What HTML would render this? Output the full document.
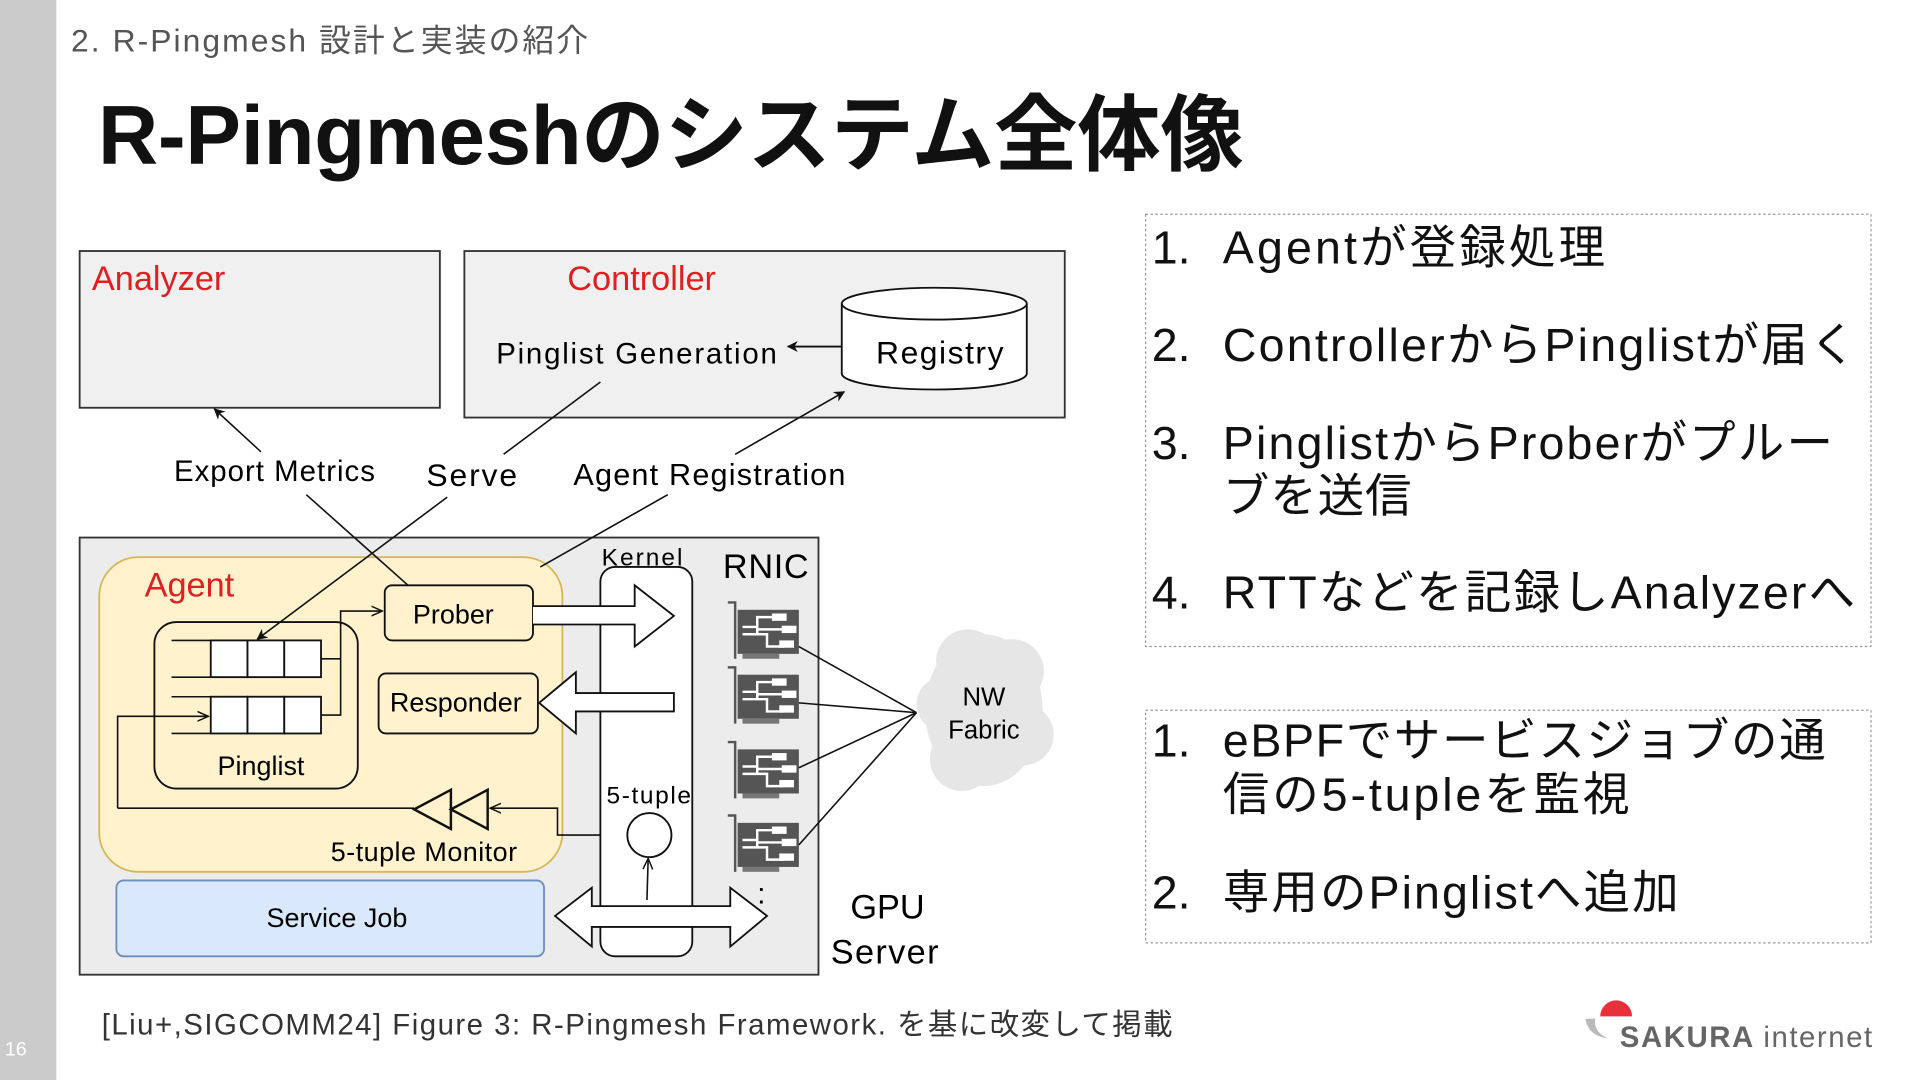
<!DOCTYPE html>
<html><head><meta charset="utf-8"><style>
html,body{margin:0;padding:0;background:#fff;}
svg{display:block;}
text{font-family:"Liberation Sans","Noto Sans CJK JP",sans-serif;}
</style></head><body>
<svg width="1920" height="1080" viewBox="0 0 1567 882" preserveAspectRatio="none" xmlns="http://www.w3.org/2000/svg">
<defs>
<marker id="ah" viewBox="0 0 10 10" refX="9" refY="5" markerWidth="9" markerHeight="9" orient="auto-start-reverse" markerUnits="userSpaceOnUse"><path d="M0,0 L10,5 L0,10 L3,5 z" fill="#111"/></marker>
<marker id="oa" viewBox="0 0 10 10" refX="9" refY="5" markerWidth="10" markerHeight="10" orient="auto" markerUnits="userSpaceOnUse"><path d="M0,1 L9,5 L0,9" fill="none" stroke="#111" stroke-width="1.2"/></marker>
<g id="nic">
<path d="M0,0 h6 v46" fill="none" stroke="#555" stroke-width="2"/>
<rect x="8" y="6" width="50" height="36" fill="#555"/>
<rect x="12" y="42" width="30" height="4" fill="#777"/>
<path d="M12,20 h12 v-8 h16 M12,26 h20 v10 h14 M24,26 v-4 h22" stroke="#fff" stroke-width="2" fill="none"/>
<rect x="36" y="9" width="12" height="6" fill="#fff"/><rect x="44" y="19" width="12" height="6" fill="#fff"/><rect x="42" y="31" width="12" height="6" fill="#fff"/>
</g>
</defs>
<rect x="0" y="0" width="46" height="882" fill="#cbcbcb"/>
<text x="4" y="862" font-size="16" fill="#fff">16</text>
<text x="58" y="42" font-size="26" fill="#555" textLength="422">2. R-Pingmesh 設計と実装の紹介</text>
<text x="80" y="134" font-size="68" font-weight="bold" fill="#111" textLength="935">R-Pingmeshのシステム全体像</text>

<!-- Analyzer -->
<rect x="65" y="205" width="294" height="128" fill="#f0f0f0" stroke="#333" stroke-width="1.5"/>
<text x="75" y="237" font-size="28" fill="#e02020">Analyzer</text>
<!-- Controller -->
<rect x="379" y="205" width="490" height="136" fill="#f0f0f0" stroke="#333" stroke-width="1.5"/>
<text x="463" y="237" font-size="28" fill="#e02020">Controller</text>
<text x="405" y="297" font-size="24" textLength="229">Pinglist Generation</text>
<path d="M687,248 v57 a75,13 0 0 0 151,0 v-57" fill="#fff" stroke="#111" stroke-width="1.5"/>
<ellipse cx="762.5" cy="248" rx="75.5" ry="13" fill="#fff" stroke="#111" stroke-width="1.5"/>
<text x="715" y="297" font-size="26" textLength="104">Registry</text>
<line x1="687" y1="283" x2="643" y2="283" stroke="#111" stroke-width="1.5" marker-end="url(#ah)"/>

<text x="142" y="393" font-size="24" textLength="164">Export Metrics</text>
<text x="348" y="397" font-size="26" textLength="74">Serve</text>
<text x="468" y="396" font-size="25" textLength="222">Agent Registration</text>

<!-- GPU server -->
<rect x="65" y="439" width="603" height="357" fill="#ececec" stroke="#333" stroke-width="1.5"/>
<rect x="81" y="455" width="378" height="257" rx="32" fill="#fff2cc" stroke="#d6b656" stroke-width="1.5"/>
<text x="118" y="487" font-size="28" fill="#e02020">Agent</text>
<rect x="314" y="478" width="121" height="45" rx="6" fill="#fff2cc" stroke="#111" stroke-width="1.5"/>
<text x="370" y="509" font-size="22" text-anchor="middle">Prober</text>
<rect x="309" y="550" width="130" height="49" rx="6" fill="#fff2cc" stroke="#111" stroke-width="1.5"/>
<text x="372" y="581" font-size="22" text-anchor="middle">Responder</text>
<rect x="126" y="508" width="166" height="136" rx="18" fill="none" stroke="#111" stroke-width="1.5"/>
<text x="213" y="633" font-size="22" text-anchor="middle">Pinglist</text>
<g stroke="#111" stroke-width="1.5" fill="#fff">
<rect x="172" y="523" width="30" height="30"/><rect x="202" y="523" width="30" height="30"/><rect x="232" y="523" width="30" height="30"/>
<rect x="172" y="569" width="30" height="30"/><rect x="202" y="569" width="30" height="30"/><rect x="232" y="569" width="30" height="30"/>
</g>
<g stroke="#111" stroke-width="1.3" fill="none">
<path d="M140,523 h32 M140,553 h32 M140,569 h32 M140,599 h32"/>
<path d="M262,538 h16 v46 h-16 M278,538 v-39 h34" marker-end="url(#oa)"/>
<path d="M96,660 v-75 h74" marker-end="url(#oa)"/>
<path d="M96,660 h242"/>
<path d="M510,682 h-55 v-22 h-55" marker-end="url(#oa)"/>
</g>
<path d="M368,645 L338,661 L368,677 z M398,645 L368,661 L398,677 z" fill="none" stroke="#111" stroke-width="2"/>
<text x="270" y="703" font-size="22" textLength="152">5-tuple Monitor</text>
<rect x="95" y="719" width="349" height="62" rx="6" fill="#dae8fc" stroke="#6c8ebf" stroke-width="1.5"/>
<text x="275" y="757" font-size="22" text-anchor="middle">Service Job</text>

<!-- connector lines drawn on top -->
<line x1="213" y1="369" x2="175" y2="334" stroke="#111" stroke-width="1.3" marker-end="url(#ah)"/>
<line x1="250" y1="404" x2="333" y2="478" stroke="#111" stroke-width="1.3"/>
<line x1="490" y1="312" x2="411" y2="371" stroke="#111" stroke-width="1.3"/>
<line x1="365" y1="406" x2="210" y2="522" stroke="#111" stroke-width="1.3" marker-end="url(#ah)"/>
<line x1="600" y1="371" x2="689" y2="320" stroke="#111" stroke-width="1.3" marker-end="url(#ah)"/>
<line x1="545" y1="404" x2="441" y2="463" stroke="#111" stroke-width="1.3"/>

<!-- kernel -->
<rect x="490" y="463" width="75" height="318" rx="12" fill="#fff" stroke="#111" stroke-width="1.5"/>
<text x="491" y="462" font-size="20" textLength="66">Kernel</text>
<text x="495" y="656" font-size="20" textLength="69">5-tuple</text>
<circle cx="530" cy="682" r="18" fill="#fff" stroke="#111" stroke-width="1.5"/>
<line x1="528" y1="735" x2="529" y2="701" stroke="#111" stroke-width="1.3" marker-end="url(#oa)"/>
<path d="M435,495 h83 v-17 l32,25 l-32,25 v-18 h-83" fill="#fff" stroke="#111" stroke-width="1.5"/>
<path d="M550,566 h-80 v-17 l-30,25 l30,25 v-18 h80 z" fill="#fff" stroke="#111" stroke-width="1.5"/>
<path d="M453,748 l30,-23 v15 h113 v-15 l30,23 l-30,25 v-16 h-113 v16 z" fill="#fff" stroke="#111" stroke-width="1.5"/>

<text x="590" y="472" font-size="28" textLength="70">RNIC</text>
<use href="#nic" x="594" y="492"/>
<use href="#nic" x="594" y="545"/>
<use href="#nic" x="594" y="606"/>
<use href="#nic" x="594" y="666"/>
<text x="618" y="738" font-size="24">:</text>
<!-- cloud -->
<g fill="#e6e6e6">
<ellipse cx="803" cy="580" rx="48" ry="62"/>
<circle cx="790" cy="540" r="26"/><circle cx="826" cy="548" r="26"/><circle cx="835" cy="600" r="25"/>
<circle cx="785" cy="620" r="26"/><circle cx="770" cy="575" r="22"/>
</g>
<text x="803" y="576" font-size="21" text-anchor="middle">NW</text>
<text x="803" y="603" font-size="21" text-anchor="middle">Fabric</text>
<g stroke="#111" stroke-width="1.3">
<line x1="652" y1="528" x2="748" y2="582"/><line x1="652" y1="574" x2="748" y2="582"/>
<line x1="652" y1="627" x2="748" y2="582"/><line x1="652" y1="690" x2="748" y2="582"/>
</g>
<text x="694" y="750" font-size="28">GPU</text>
<text x="678" y="787" font-size="28" textLength="88">Server</text>

<!-- right panels -->
<rect x="935" y="175" width="592" height="353" fill="none" stroke="#999" stroke-width="1" stroke-dasharray="2,2"/>
<g font-size="38" fill="#111">
<text x="940" y="215">1.</text><text x="998" y="215" textLength="312">Agentが登録処理</text>
<text x="940" y="295">2.</text><text x="998" y="295" textLength="517">ControllerからPinglistが届く</text>
<text x="940" y="375">3.</text><text x="998" y="375" textLength="498">PinglistからProberがプルー</text><text x="998" y="418" textLength="154">ブを送信</text>
<text x="940" y="497">4.</text><text x="998" y="497" textLength="516">RTTなどを記録しAnalyzerへ</text>
</g>
<rect x="935" y="580" width="592" height="190" fill="none" stroke="#999" stroke-width="1" stroke-dasharray="2,2"/>
<g font-size="38" fill="#111">
<text x="940" y="618">1.</text><text x="998" y="618" textLength="492">eBPFでサービスジョブの通</text><text x="998" y="662" textLength="332">信の5-tupleを監視</text>
<text x="940" y="742">2.</text><text x="998" y="742" textLength="372">専用のPinglistへ追加</text>
</g>

<text x="83" y="845" font-size="24" fill="#333" textLength="874">[Liu+,SIGCOMM24] Figure 3: R-Pingmesh Framework. を基に改変して掲載</text>
<path d="M1306,830 a13,13 0 0 1 26,0 z" fill="#e8303a"/>
<path d="M1294,832 q2,14 18,16 q-12,-6 -10,-16 z" fill="#bbb"/>
<text x="1322" y="855" font-size="24" font-weight="bold" fill="#666" textLength="206">SAKURA <tspan font-weight="normal">internet</tspan></text>
</svg>
</body></html>
